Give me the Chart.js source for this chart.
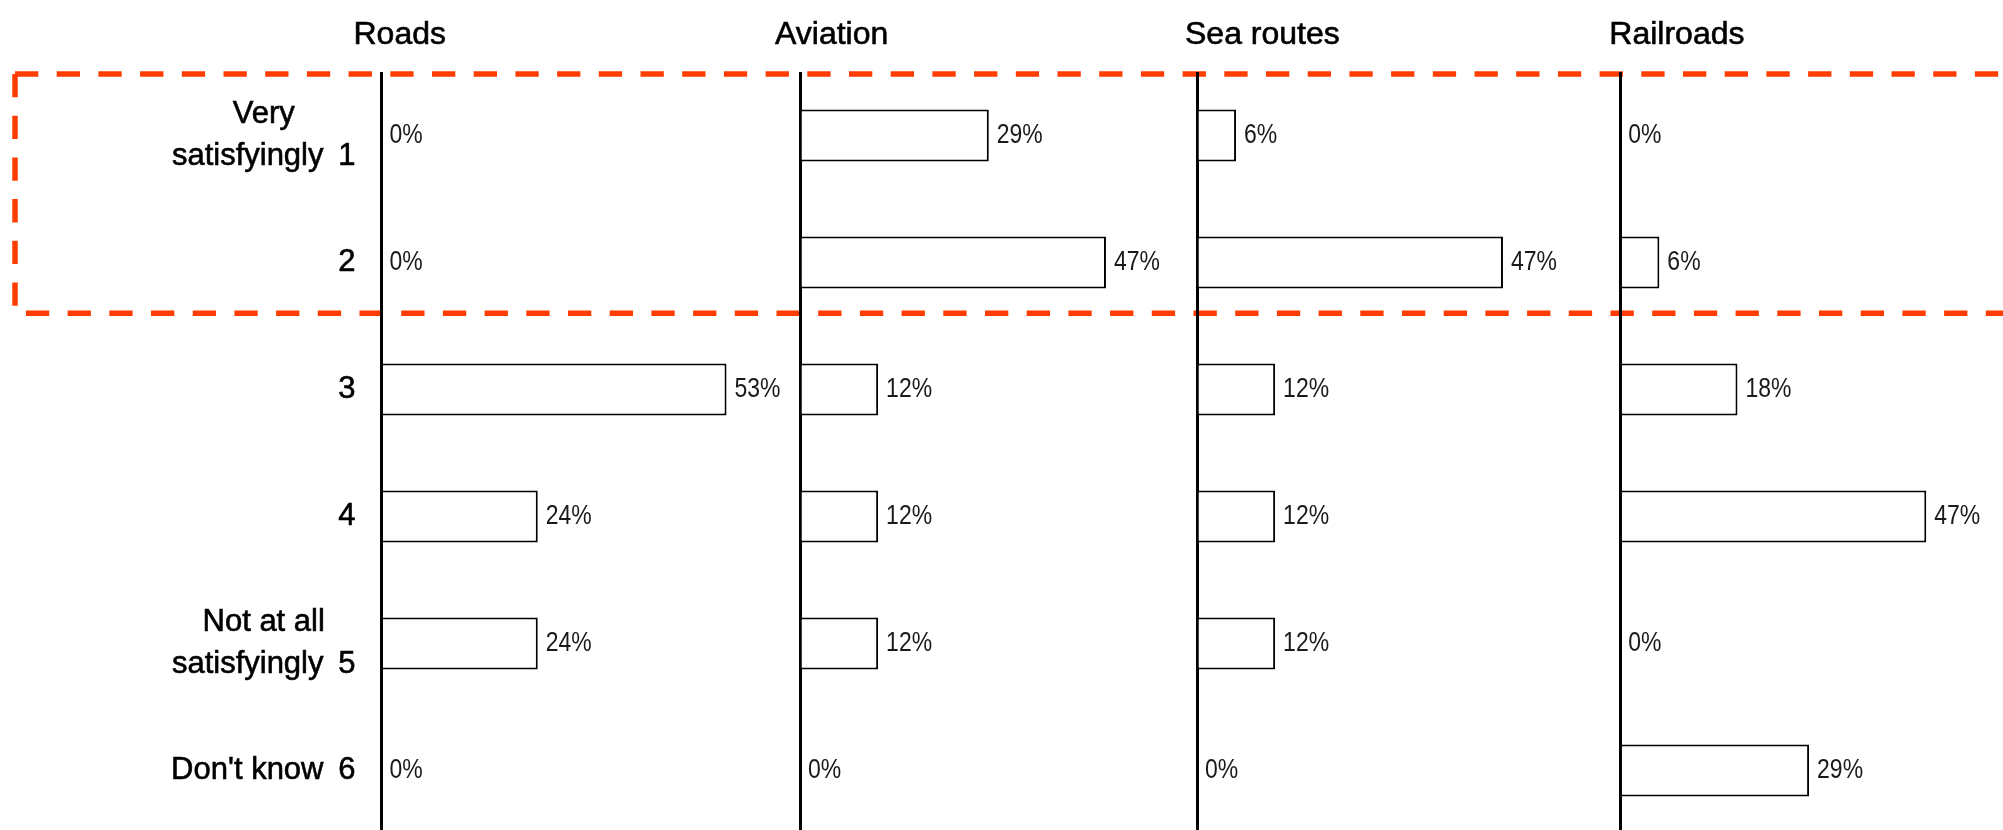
<!DOCTYPE html>
<html lang="en">
<head>
    <meta charset="UTF-8">
    <title>Satisfaction with transport connections</title>
    <script src="https://cdn.jsdelivr.net/npm/chart.js"></script>
    <style>
        html, body {
            margin: 0;
            padding: 0;
            background: #fff;
            overflow: hidden;
        }

        .chart-box {
            position: relative;
            width: 2003px;
            height: 834px;
        }
    </style>
</head>
<body>
    <div class="chart-box">
        <canvas id="graphique"></canvas>
    </div>

    <script>
        // answer scale (rows) and their text
        const rowNumbers = ['1', '2', '3', '4', '5', '6'];
        const rowTexts = [['Very', 'satisfyingly'], [], [], [], ['Not at all', 'satisfyingly'], ["Don't know"]];

        // panels
        const modes = ['Roads', 'Aviation', 'Sea routes', 'Railroads'];

        // shares in %, one value per row
        const roads = [0, 0, 53, 24, 24, 0];
        const aviation = [29, 47, 12, 12, 12, 0];
        const seaRoutes = [6, 47, 12, 12, 12, 0];
        const railroads = [0, 6, 18, 47, 0, 29];

        const series = [roads, aviation, seaRoutes, railroads];

        // layout
        const panelWidths = [418.5, 397, 423.3, 382.7];
        const pxPerPct = 6.51;
        const titleShift = [-28, -25, -12, -11];
        const FONT = '"Liberation Sans", Arial, sans-serif';

        const scales = {
            y: { type: 'category', display: false, offset: true }
        };
        series.forEach((d, i) => {
            scales['x' + i] = {
                type: 'linear',
                position: 'bottom',
                stack: 'panels',
                stackWeight: panelWidths[i],
                min: 0,
                max: panelWidths[i] / pxPerPct,
                z: 1, // axis line on top of the bars
                ticks: { display: false },
                border: { display: false },
                grid: {
                    drawTicks: false,
                    lineWidth: 3,
                    color: c => (c.tick && c.tick.value === 0) ? '#000' : 'rgba(0,0,0,0)'
                }
            };
        });

        // fill + thin stroke, a bit heavier than plain regular
        function heavyText(ctx, txt, x, y) {
            ctx.fillText(txt, x, y);
            ctx.strokeText(txt, x, y);
        }

        // dashed highlight around rows 1-2, titles, row labels, value labels
        const decorPlugin = {
            id: 'decor',
            beforeDraw(chart) {
                const ctx = chart.ctx;
                const yScale = chart.scales.y;
                const step = yScale.getPixelForValue(1) - yScale.getPixelForValue(0);
                const top = chart.chartArea.top + 2;
                const bottom = yScale.getPixelForValue(1) + 0.4 * step;
                const right = chart.width + 10;
                ctx.save();
                ctx.strokeStyle = '#FF3D00';
                ctx.lineWidth = 5.5;
                ctx.setLineDash([23.3, 18.4]);
                ctx.beginPath();
                ctx.moveTo(15, top);
                ctx.lineTo(right, top);
                ctx.stroke();
                ctx.beginPath();
                ctx.moveTo(15, top);
                ctx.lineTo(15, bottom);
                ctx.lineTo(right, bottom);
                ctx.stroke();
                ctx.restore();
            },
            afterDraw(chart) {
                const ctx = chart.ctx;
                const yScale = chart.scales.y;
                ctx.save();
                ctx.fillStyle = '#000';
                ctx.strokeStyle = '#000';
                ctx.lineWidth = 0.6;

                // panel titles
                ctx.font = '32px ' + FONT;
                ctx.textAlign = 'left';
                ctx.textBaseline = 'alphabetic';
                modes.forEach((m, i) => {
                    const x = chart.scales['x' + i].getPixelForValue(0) + titleShift[i];
                    heavyText(ctx, m, x, 44);
                });

                // row labels
                const axisX = chart.scales.x0.getPixelForValue(0);
                const numRight = axisX - 26;
                const textRight = axisX - 58;
                ctx.font = '31px ' + FONT;
                ctx.textBaseline = 'middle';
                rowNumbers.forEach((num, r) => {
                    const yc = yScale.getPixelForValue(r);
                    const lines = rowTexts[r];
                    const n = lines.length;
                    const lineY = j => yc + (j - (n - 1) / 2) * 42;
                    const numY = n ? lineY(n - 1) : yc;
                    ctx.textAlign = 'right';
                    heavyText(ctx, num, numRight, numY);
                    if (!n) return;
                    const last = lines[n - 1];
                    heavyText(ctx, last, textRight, numY);
                    const center = (textRight - ctx.measureText(last).width + numRight) / 2;
                    ctx.textAlign = 'center';
                    for (let j = 0; j < n - 1; j++) {
                        heavyText(ctx, lines[j], center, lineY(j));
                    }
                });

                // value labels
                ctx.font = '28px ' + FONT;
                ctx.textAlign = 'left';
                ctx.fillStyle = '#1a1a1a';
                chart.data.datasets.forEach((ds, i) => {
                    chart.getDatasetMeta(i).data.forEach((bar, j) => {
                        ctx.save();
                        ctx.translate(bar.x + 8, bar.y);
                        ctx.scale(0.82, 1);
                        ctx.fillText(ds.data[j] + '%', 0, 0);
                        ctx.restore();
                    });
                });
                ctx.restore();
            }
        };

        const chart = new Chart(document.getElementById('graphique'), {
            type: 'bar',
            data: {
                labels: rowNumbers,
                datasets: series.map((d, i) => ({
                    label: modes[i],
                    data: d,
                    xAxisID: 'x' + i,
                    yAxisID: 'y',
                    backgroundColor: '#fff',
                    borderColor: '#000',
                    borderWidth: 2,
                    borderSkipped: 'start',
                    grouped: false,
                    barPercentage: 0.41,
                    categoryPercentage: 1
                }))
            },
            options: {
                indexAxis: 'y',
                responsive: true,
                maintainAspectRatio: false,
                animation: false,
                layout: { padding: { left: 381.5, top: 72, right: 0, bottom: 0 } },
                scales: scales,
                plugins: {
                    legend: { display: false },
                    tooltip: { enabled: false }
                }
            },
            plugins: [decorPlugin]
        });
    </script>
</body>
</html>
